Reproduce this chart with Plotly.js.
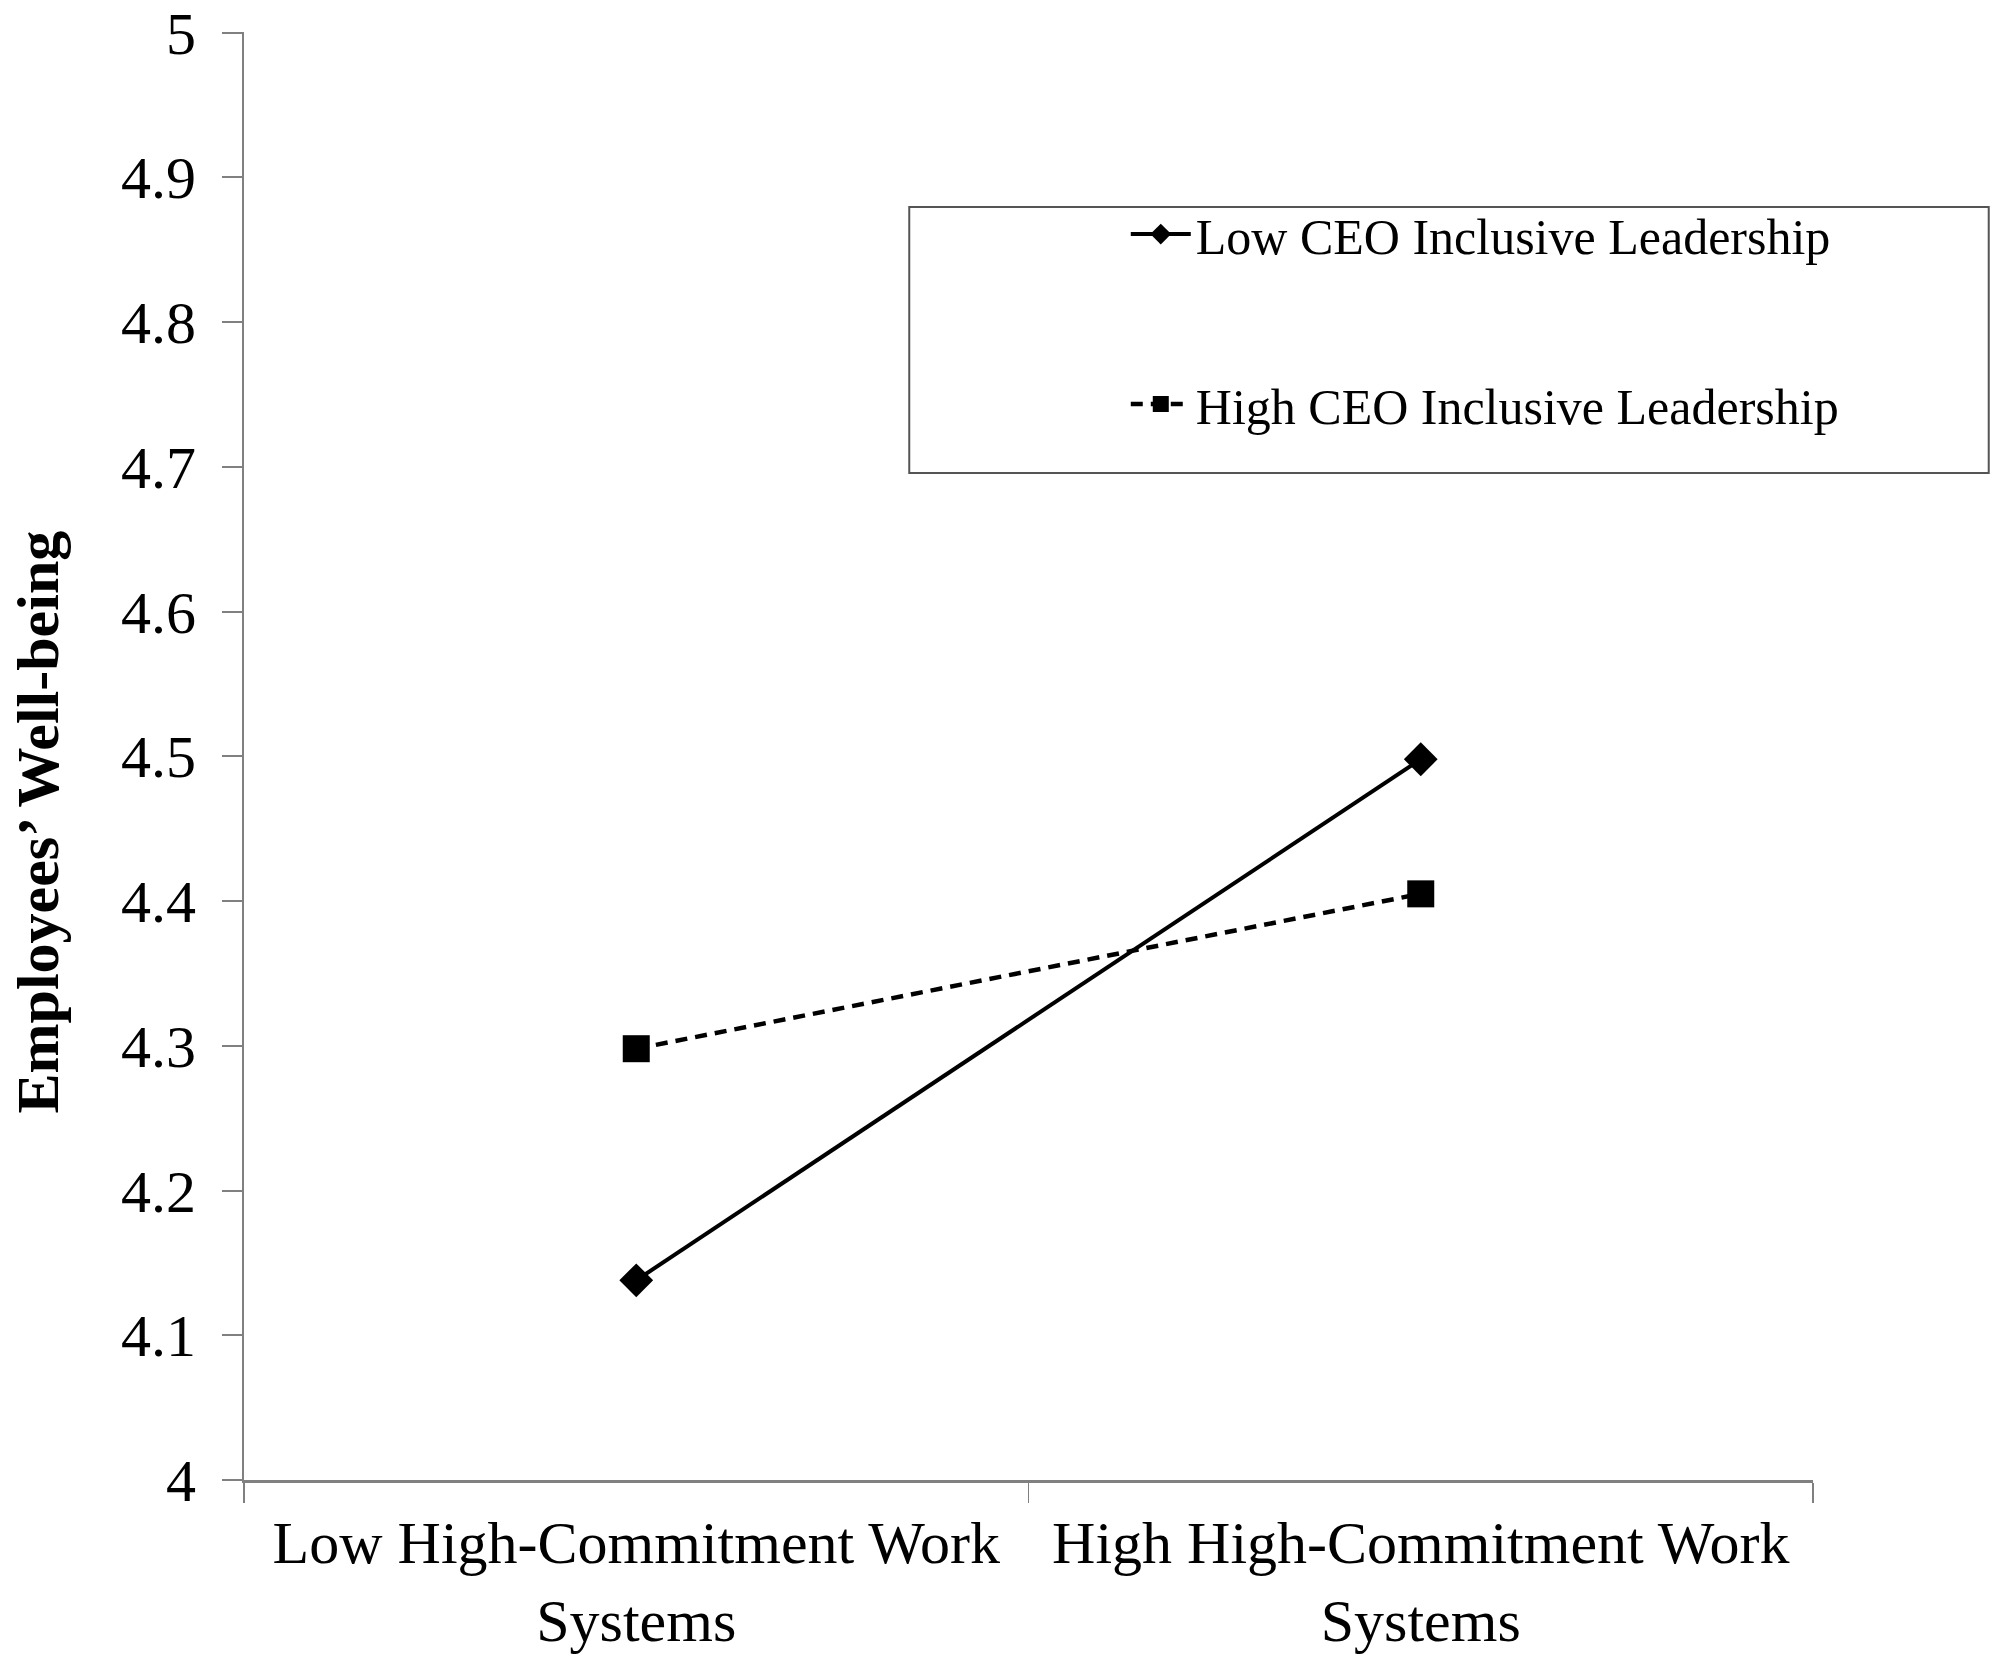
<!DOCTYPE html>
<html>
<head>
<meta charset="utf-8">
<script src="https://cdn.plot.ly/plotly-3.0.1.min.js"></script>
<style>
  html, body { margin: 0; padding: 0; background: #fff; }
  #chart { width: 1995px; height: 1657px; }
</style>
</head>
<body>
<div id="chart"></div>
<script>
// Simple slopes: well-being by HCWS level, split by CEO inclusive leadership
const categories = ['Low High-Commitment Work<br>Systems', 'High High-Commitment Work<br>Systems'];
const lowCeoValues  = [4.138, 4.498];
const highCeoValues = [4.298, 4.405];
const seriesNames   = ['Low CEO Inclusive Leadership', 'High CEO Inclusive Leadership'];
const yTicks        = [4, 4.1, 4.2, 4.3, 4.4, 4.5, 4.6, 4.7, 4.8, 4.9, 5];
const yTitle        = 'Employees’ Well-being';

const FONT = 'Liberation Serif, Times New Roman, serif';

const traces = [
  {
    x: categories, y: lowCeoValues, name: seriesNames[0],
    type: 'scatter', mode: 'lines+markers', legendgroup: 'a',
    line: { color: '#000', width: 4 },
    marker: { symbol: 'diamond', size: 26, color: '#000' },
  },
  {
    x: categories, y: highCeoValues, name: seriesNames[1],
    type: 'scatter', mode: 'lines+markers', legendgroup: 'b',
    line: { color: '#000', width: 4.5, dash: '12px,8px' },
    marker: { symbol: 'square', size: 27, color: '#000' },
  },
];

const layout = {
  width: 1995, height: 1657,
  margin: { l: 244, r: 182, t: 32, b: 177 },
  paper_bgcolor: '#fff', plot_bgcolor: '#fff',
  font: { family: FONT, color: '#000' },
  showlegend: true,
  legend: {
    x: 0.562, y: 0.8874, xanchor: 'left', yanchor: 'top',
    traceorder: 'grouped', tracegroupgap: 102,
    font: { family: FONT, size: 50, color: '#000' },
    bgcolor: 'rgba(0,0,0,0)', borderwidth: 0,
    itemwidth: 60,
  },
  xaxis: {
    type: 'category', range: [-0.5, 1.5],
    tickson: 'boundaries', ticks: 'outside', ticklen: 20, tickcolor: '#808080', tickwidth: 1.5,
    showline: true, linecolor: '#808080', linewidth: 3,
    showgrid: false, zeroline: false,
    ticklabelstandoff: 8,
    tickfont: { family: FONT, size: 60, color: '#000' },
    fixedrange: true,
  },
  yaxis: {
    range: [4, 5.0005], tickvals: yTicks,
    ticks: 'outside', ticklen: 20, tickcolor: '#808080', tickwidth: 2,
    showline: true, linecolor: '#808080', linewidth: 2,
    showgrid: false, zeroline: false,
    ticklabelstandoff: 14, ticklabeloverflow: 'allow',
    tickfont: { family: FONT, size: 60, color: '#000' },
    automargin: false,
  },
  annotations: [
    { text: yTitle, xref: 'paper', yref: 'paper', x: -0.131, y: 0.4544,
      xanchor: 'center', yanchor: 'middle', textangle: -90, showarrow: false,
      font: { family: FONT, size: 60, color: '#000', weight: 'bold' } },
  ],
  shapes: [
    { type: 'rect', xref: 'paper', yref: 'paper',
      x0: 0.424, x1: 1.112, y0: 0.6954, y1: 0.8791,
      line: { color: '#555', width: 2 }, fillcolor: 'rgba(0,0,0,0)', layer: 'below' },
  ],
};

Plotly.newPlot('chart', traces, layout, { staticPlot: true, displayModeBar: false });
</script>
</body>
</html>
